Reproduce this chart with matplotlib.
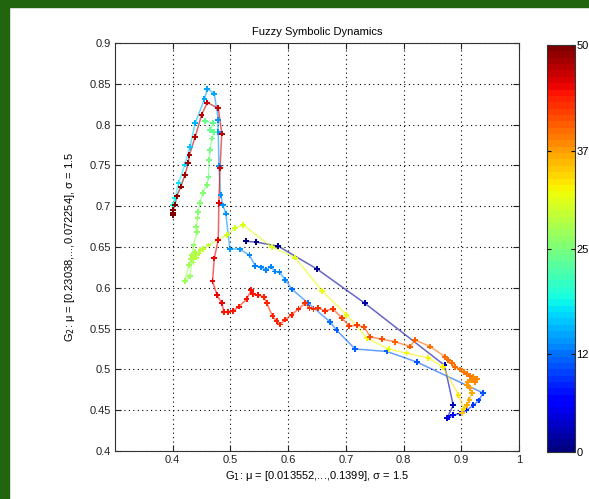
import matplotlib
matplotlib.use("Agg")
import matplotlib.pyplot as plt
import numpy as np
from matplotlib.collections import LineCollection
from matplotlib.colors import ListedColormap, Normalize
from matplotlib.colorbar import ColorbarBase
from matplotlib.patches import Rectangle

# first run: navy -> blue -> light blue -> cyan (t 0..19)
x_a = [0.527, 0.545, 0.583, 0.650, 0.733, 0.871, 0.886, 0.875,
       0.878, 0.886, 0.898, 0.909, 0.921, 0.930, 0.938,
       0.823, 0.771, 0.716, 0.684, 0.673, 0.635, 0.607, 0.595, 0.585, 0.577,
       0.570, 0.562, 0.553, 0.543, 0.533, 0.517, 0.499,
       0.492, 0.487, 0.483, 0.480, 0.479, 0.479, 0.472, 0.460,
       0.455, 0.439, 0.430, 0.421, 0.410, 0.404, 0.401]
y_a = [0.657, 0.656, 0.651, 0.623, 0.581, 0.505, 0.456, 0.440,
       0.441, 0.444, 0.446, 0.450, 0.456, 0.462, 0.471,
       0.509, 0.522, 0.525, 0.548, 0.558, 0.581, 0.598, 0.610, 0.619, 0.620,
       0.626, 0.622, 0.625, 0.627, 0.640, 0.647, 0.648,
       0.691, 0.701, 0.714, 0.749, 0.791, 0.806, 0.838, 0.844,
       0.831, 0.802, 0.773, 0.751, 0.728, 0.710, 0.702]
t_a = [0.0, 0.5, 1.0, 1.5, 2.0, 2.5, 3.0, 3.5,
       6.0, 6.7, 7.4, 8.1, 8.8, 9.5, 10.2,
       10.8, 11.1, 11.4, 11.7, 11.9, 12.1, 12.3, 12.5, 12.6, 12.7,
       12.8, 12.9, 13.0, 13.1, 13.2, 13.3, 13.4,
       13.5, 13.6, 13.7, 13.8, 13.9, 14.0, 14.1, 14.2,
       14.8, 15.6, 16.3, 17.0, 17.7, 18.3, 18.8]

# second run: green -> yellow -> orange -> red -> dark red (t 23..50)
x_b = [0.456, 0.470, 0.465, 0.472, 0.468, 0.465, 0.463, 0.462, 0.459, 0.452,
       0.447, 0.444, 0.443, 0.440, 0.442, 0.436, 0.430, 0.421,
       0.428, 0.432, 0.436, 0.434, 0.438, 0.441, 0.445, 0.437, 0.448, 0.453,
       0.462, 0.479, 0.494, 0.508, 0.522, 0.572, 0.612, 0.659, 0.701, 0.737,
       0.774, 0.805, 0.843, 0.868, 0.895, 0.904, 0.901,
       0.9095, 0.914, 0.918, 0.915, 0.9095, 0.912, 0.918, 0.924, 0.927, 0.921,
       0.915, 0.9095, 0.904, 0.898, 0.889, 0.8835, 0.8777, 0.872,
       0.846, 0.820, 0.811, 0.785, 0.762, 0.742, 0.732, 0.719, 0.706, 0.693,
       0.678, 0.664, 0.652, 0.644, 0.637, 0.629, 0.618, 0.606, 0.595, 0.586,
       0.580, 0.573, 0.563, 0.558, 0.548, 0.539, 0.536, 0.528, 0.515, 0.505,
       0.496, 0.489, 0.485, 0.477, 0.469, 0.472, 0.479, 0.480, 0.482, 0.485,
       0.479, 0.460,
       0.450, 0.439, 0.429, 0.427, 0.421, 0.414, 0.407, 0.404, 0.401, 0.400, 0.401]
y_b = [0.804, 0.802, 0.793, 0.791, 0.783, 0.769, 0.757, 0.736, 0.726, 0.716,
       0.704, 0.693, 0.685, 0.675, 0.668, 0.652, 0.614, 0.608,
       0.628, 0.635, 0.631, 0.640, 0.644, 0.637, 0.642, 0.638, 0.646, 0.648,
       0.652, 0.659, 0.665, 0.673, 0.677, 0.650, 0.637, 0.596, 0.567, 0.538,
       0.525, 0.520, 0.514, 0.503, 0.469, 0.452, 0.447,
       0.456, 0.4625, 0.471, 0.477, 0.481, 0.485, 0.487, 0.485, 0.488, 0.491,
       0.492, 0.494, 0.497, 0.500, 0.503, 0.5075, 0.5115, 0.5155,
       0.528, 0.536, 0.528, 0.534, 0.537, 0.540, 0.552, 0.554, 0.553, 0.563,
       0.574, 0.572, 0.575, 0.574, 0.575, 0.581, 0.574, 0.567, 0.561, 0.555,
       0.559, 0.565, 0.581, 0.589, 0.591, 0.592, 0.597, 0.586, 0.577, 0.572,
       0.570, 0.570, 0.581, 0.591, 0.608, 0.636, 0.659, 0.704, 0.747, 0.789,
       0.820, 0.827,
       0.812, 0.785, 0.763, 0.753, 0.738, 0.724, 0.712, 0.702, 0.695, 0.689, 0.692]
t_b = [23.5, 23.7, 23.9, 24.1, 24.3, 24.5, 24.7, 24.9, 25.1, 25.3,
       25.5, 25.7, 25.9, 26.1, 26.3, 26.5, 26.8, 27.0,
       27.3, 27.5, 27.7, 27.9, 28.1, 28.3, 28.5, 28.7, 28.9, 29.1,
       29.5, 29.8, 30.1, 30.4, 30.7, 31.0, 31.2, 31.4, 31.6, 31.8,
       32.0, 32.2, 32.4, 32.6, 33.5, 34.0, 34.5,
       36.0, 36.3, 36.6, 36.9, 37.2, 37.4, 37.6, 37.8, 38.0, 38.2,
       38.4, 38.6, 38.8, 39.0, 39.1, 39.2, 39.3, 39.4,
       39.5, 40.0, 40.3, 40.6, 40.9, 41.2, 41.4, 41.6, 41.8, 42.0,
       42.2, 42.4, 42.6, 42.7, 42.8, 42.9, 43.0, 43.1, 43.2, 43.3,
       43.4, 43.5, 43.6, 43.7, 43.8, 43.9, 44.0, 44.1, 44.2, 44.3,
       44.4, 44.5, 44.6, 44.7, 44.8, 45.0, 45.2, 45.5, 45.8, 46.1,
       46.4, 46.7,
       47.0, 47.4, 47.8, 48.1, 48.4, 48.8, 49.1, 49.4, 49.6, 49.8, 50.0]

cbar_ticks = [0, 12, 25, 37, 50]
x_ticks = [0.4, 0.5, 0.6, 0.7, 0.8, 0.9, 1.0]
x_ticklabels = ['0.4', '0.5', '0.6', '0.7', '0.8', '0.9', '1']
y_ticks = [0.4, 0.45, 0.5, 0.55, 0.6, 0.65, 0.7, 0.75, 0.8, 0.85, 0.9]
y_ticklabels = ['0.4', '0.45', '0.5', '0.55', '0.6', '0.65', '0.7', '0.75', '0.8', '0.85', '0.9']

plt.rcParams['font.family'] = ['Liberation Sans', 'DejaVu Sans']

cmap = ListedColormap(plt.get_cmap('jet')(np.linspace(0, 1, 64)))
norm = Normalize(0, 50)

fig = plt.figure(figsize=(5.89, 4.99), dpi=100)
fig.patch.set_facecolor('white')

# green frame on top and left
fig.add_artist(Rectangle((0, 1 - 7 / 499), 1, 7 / 499, transform=fig.transFigure,
                         color='#21650f', zorder=0))
fig.add_artist(Rectangle((0, 0), 9 / 589, 1, transform=fig.transFigure,
                         color='#21650f', zorder=0))

ax = fig.add_axes([0.1952, 0.0962, 0.686, 0.8176])

for xs, ys, ts in [(x_a, y_a, t_a), (x_b, y_b, t_b)]:
    xs = np.array(xs)
    ys = np.array(ys)
    ts = np.array(ts)
    pts = np.column_stack([xs, ys]).reshape(-1, 1, 2)
    segs = np.concatenate([pts[:-1], pts[1:]], axis=1)
    tmid = (ts[:-1] + ts[1:]) / 2
    lc = LineCollection(segs, colors=cmap(norm(tmid)), linewidths=1.1, alpha=0.6, zorder=2)
    ax.add_collection(lc)
    ax.scatter(xs, ys, c=ts, cmap=cmap, norm=norm, marker='P', s=17, linewidths=0, zorder=3)

ax.set_xlim(0.3, 1.0)
ax.set_ylim(0.4, 0.9)
ax.set_xticks(x_ticks)
ax.set_xticklabels(x_ticklabels)
ax.set_yticks(y_ticks)
ax.set_yticklabels(y_ticklabels)
ax.tick_params(direction='in', length=4, labelsize=8, top=True, right=True,
               colors='#222222', pad=3)
ax.grid(True, linestyle=(0, (1, 3)), color='black', linewidth=0.8)
for s in ax.spines.values():
    s.set_color('#333333')
    s.set_linewidth(0.8)

ax.set_title('Fuzzy Symbolic Dynamics', fontsize=8, pad=6)
ax.set_xlabel('G$_1$: \u03bc = [0.013552,...,0.1399], \u03c3 = 1.5', fontsize=8, labelpad=3)
ax.set_ylabel('G$_2$: \u03bc = [0.23038,...,0.072254], \u03c3 = 1.5', fontsize=8, labelpad=9)

cax = fig.add_axes([0.9287, 0.0942, 0.0475, 0.8156])
cb = ColorbarBase(cax, cmap=cmap, norm=norm, ticks=cbar_ticks)
cb.ax.tick_params(direction='in', length=3, labelsize=8, left=True, right=True, pad=1)
cb.outline.set_linewidth(0.8)
cb.outline.set_edgecolor('#333333')

fig.savefig('out.png', dpi=100)
